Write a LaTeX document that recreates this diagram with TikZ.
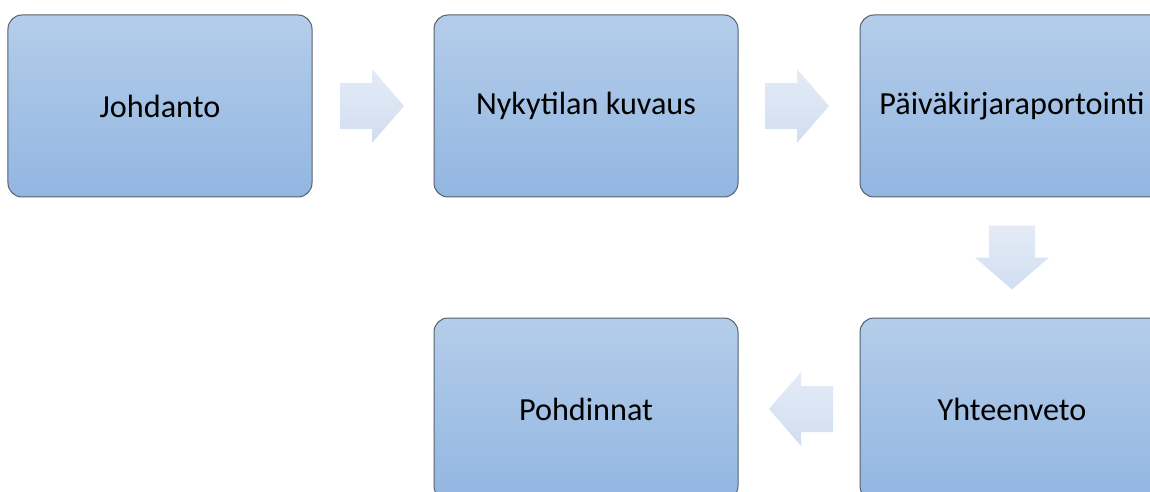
\documentclass[tikz,border=0pt]{standalone}
\usepackage{fontspec}
\setmainfont{Carlito}
\usepackage{tikz}
\usetikzlibrary{positioning, calc}

\definecolor{boxtop}{HTML}{B4CDEA}
\definecolor{boxbot}{HTML}{92B6E1}
\definecolor{boxline}{HTML}{56606E}
\definecolor{arrtop}{HTML}{E4EBF6}
\definecolor{arrbot}{HTML}{D0DEF1}

\tikzset{
	stage/.style={draw=boxline, line width=1pt, rounded corners=14pt, top color=boxtop, bottom color=boxbot, minimum width=304pt, minimum height=182pt, align=center, font=\fontsize{32.2}{38}\selectfont},
	flowarrow/.style={top color=arrtop, bottom color=arrbot, draw=none}
}

\begin{document}
\begin{tikzpicture}[x=1pt, y=1pt, node distance=120pt and 121pt]
	\useasboundingbox (-160,106) rectangle ++(1150,-492);

	% Stages
	\node[stage] (johdanto) {Johdanto};
	\node[stage, right=of johdanto] (nykytila) {Nykytilan kuvaus};
	\node[stage, right=of nykytila] (paivakirja) {Päiväkirjaraportointi};
	\node[stage, below=of paivakirja] (yhteenveto) {Yhteenveto};
	\node[stage, left=of yhteenveto] (pohdinnat) {Pohdinnat};

	% Arrow positions
	\coordinate (a1) at ($(johdanto.east)!0.5!(nykytila.west)+(-1,0)$);
	\coordinate (a2) at ($(nykytila.east)!0.5!(paivakirja.west)+(-2,0)$);
	\coordinate (a3) at ($(paivakirja.south)!0.5!(yhteenveto.north)$);
	\coordinate (a4) at ($(yhteenveto.west)!0.5!(pohdinnat.east)+(2,0)$);

	% Arrows
	\shade[flowarrow] ($(a1)+(-32,23)$) -- ++(32,0) -- ++(0,14) -- ++(32,-37) -- ++(-32,-37) -- ++(0,14) -- ++(-32,0) -- cycle;
	\shade[flowarrow] ($(a2)+(-32,23)$) -- ++(32,0) -- ++(0,14) -- ++(32,-37) -- ++(-32,-37) -- ++(0,14) -- ++(-32,0) -- cycle;
	\shade[flowarrow] ($(a3)+(-23,32)$) -- ++(0,-32) -- ++(-14,0) -- ++(37,-32) -- ++(37,32) -- ++(-14,0) -- ++(0,32) -- cycle;
	\shade[flowarrow] ($(a4)+(32,23)$) -- ++(-32,0) -- ++(0,14) -- ++(-32,-37) -- ++(32,-37) -- ++(0,14) -- ++(32,0) -- cycle;
\end{tikzpicture}
\end{document}
